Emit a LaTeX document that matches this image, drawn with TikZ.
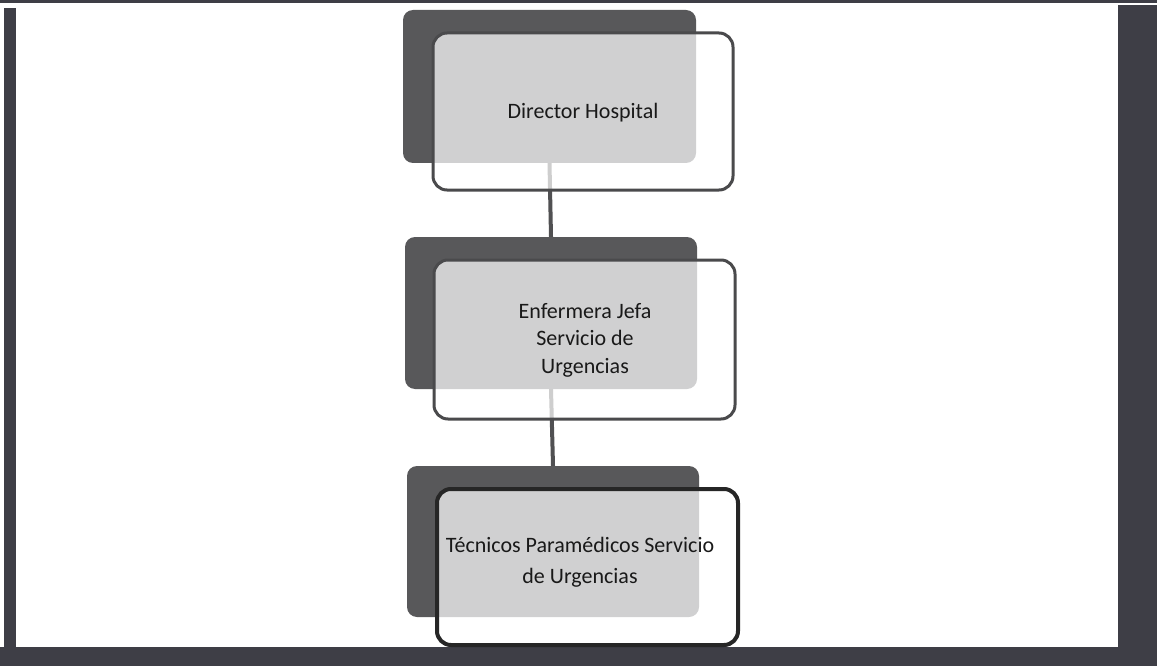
\documentclass[tikz,border=0pt]{standalone}
\usepackage{fontspec}
\setmainfont{Carlito}
\definecolor{frameC}{HTML}{3E3E46}
\definecolor{backC}{HTML}{58585A}
\definecolor{lineC}{HTML}{4A4A4C}
\definecolor{edgeC}{HTML}{505052}
\tikzset{
  backbox/.style={rectangle, rounded corners=10pt, fill=backC, draw=none, inner sep=0pt},
  frontbox/.style={rectangle, rounded corners=14pt, fill=white, fill opacity=0.72, draw=lineC, draw opacity=1, line width=3pt, inner sep=0pt},
  lastbox/.style={frontbox, draw=black!85, line width=4pt},
  label/.style={font=\fontsize{22}{27.5}\selectfont, align=center, text=black!90, inner sep=0pt},
  link/.style={draw=edgeC, line width=4pt},
  framebar/.style={fill=frameC, draw=none}
}
\begin{document}
\begin{tikzpicture}[x=1pt,y=-1pt]
\useasboundingbox (0,0) rectangle (1157,666);
\fill[white] (0,0) rectangle (1157,666);
% frame
\fill[framebar] (0,0) rectangle (1157,3);
\fill[framebar] (4,8) rectangle (16,666);
\fill[framebar] (0,647) rectangle (1157,666);
\fill[framebar] (1118,5) rectangle (1157,666);
% back boxes
\node[backbox, minimum width=293pt, minimum height=153pt] (d1) at (549.5,86.5) {};
\node[backbox, minimum width=292pt, minimum height=152pt] (d2) at (551,313) {};
\node[backbox, minimum width=292pt, minimum height=151pt] (d3) at (553,541.5) {};
% connectors
\draw[link] (d1.south) -- (d2.north);
\draw[link] (d2.south) -- (d3.north);
% front boxes
\node[frontbox, minimum width=300pt, minimum height=157pt] (f1) at (583,111.5) {};
\node[frontbox, minimum width=301pt, minimum height=159pt] (f2) at (584.5,339.5) {};
\node[lastbox, minimum width=301pt, minimum height=156pt] (f3) at (587.5,567) {};
% texts
\node[label] (t1) at (583,113) {Director Hospital};
\node[label] (t2) at (585,340) {Enfermera Jefa\\Servicio de\\Urgencias};
\node[label, font=\fontsize{22}{31}\selectfont] (t3) at (580,562) {Técnicos Paramédicos Servicio\\de Urgencias};
\end{tikzpicture}
\end{document}
